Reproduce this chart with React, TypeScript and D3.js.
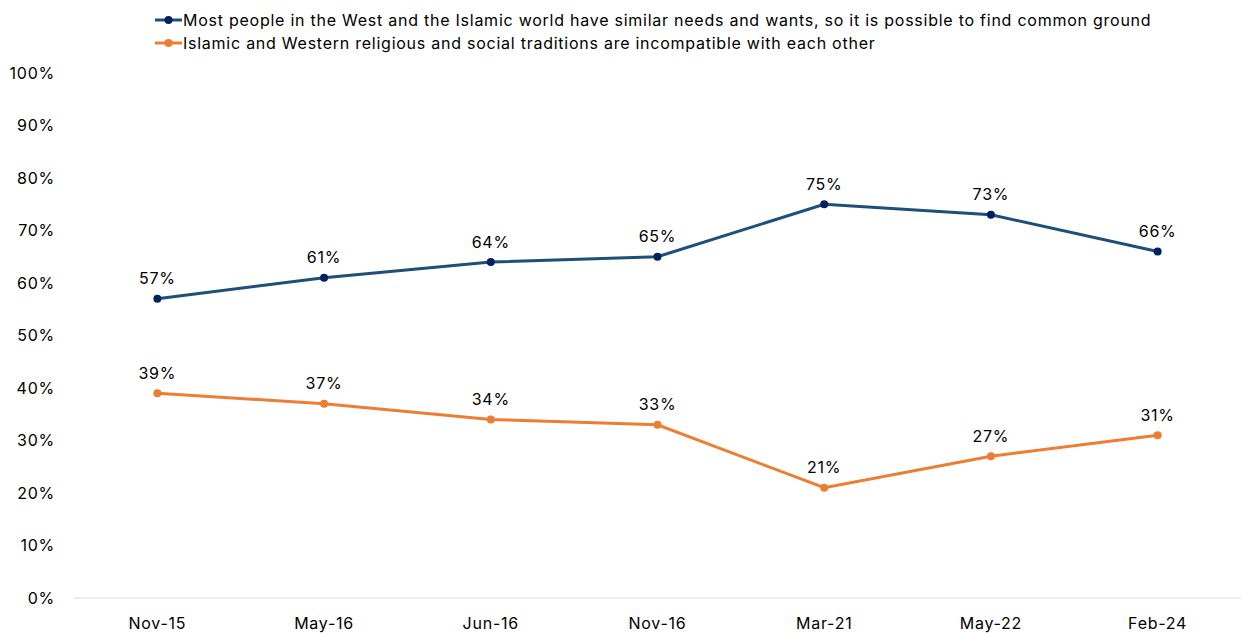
import React from "react";
import * as d3 from "d3";

const categories = ["Nov-15", "May-16", "Jun-16", "Nov-16", "Mar-21", "May-22", "Feb-24"];
const commonGround = [57, 61, 64, 65, 75, 73, 66];
const incompatible = [39, 37, 34, 33, 21, 27, 31];
const yTicks = [0, 10, 20, 30, 40, 50, 60, 70, 80, 90, 100];
const seriesNames = [
  "Most people in the West and the Islamic world have similar needs and wants, so it is possible to find common ground",
  "Islamic and Western religious and social traditions are incompatible with each other",
];

const W = 1243;
const H = 633;
const FONT = "Inter, 'Open Sans', sans-serif";

export default function App() {
  const x = d3.scaleBand<string>().domain(categories).range([74, 1241]);
  const y = d3.scaleLinear().domain([0, 100]).range([598, 73]);
  const cx = (c: string) => (x(c) as number) + x.bandwidth() / 2;
  const line = d3
    .line<number>()
    .x((_, i) => cx(categories[i]))
    .y((d) => y(d));

  const series = [
    { name: seriesNames[0], values: commonGround, line: "#1F4E79", marker: "#002060" },
    { name: seriesNames[1], values: incompatible, line: "#ED7D31", marker: "#ED7D31" },
  ];

  return (
    <svg width={W} height={H} style={{ position: "absolute", left: 0, top: 0, background: "#fff" }} fontFamily={FONT} letterSpacing={0.75}>
      <line x1={74} x2={1241} y1={y(0)} y2={y(0)} stroke="#D9D9D9" strokeWidth={1} />
      {yTicks.map((t) => (
        <text key={t} x={55} y={y(t)} dy="0.35em" textAnchor="end" fontSize={16} fill="#000">
          {t}%
        </text>
      ))}
      {categories.map((c) => (
        <text key={c} x={cx(c)} y={623} dy="0.35em" textAnchor="middle" fontSize={16} fill="#000">
          {c}
        </text>
      ))}
      {series.map((s, si) => (
        <g key={si}>
          <path d={line(s.values) || ""} fill="none" stroke={s.line} strokeWidth={3} />
          {s.values.map((v, i) => (
            <circle key={i} cx={cx(categories[i])} cy={y(v)} r={4} fill={s.marker} />
          ))}
          {s.values.map((v, i) => (
            <text key={"l" + i} x={cx(categories[i])} y={y(v) - 20} dy="0.35em" textAnchor="middle" fontSize={16} fill="#000">
              {v}%
            </text>
          ))}
        </g>
      ))}
      {series.map((s, si) => (
        <g key={"leg" + si} transform={`translate(0, ${20 + si * 23})`}>
          <line x1={155} x2={182} y1={0} y2={0} stroke={s.line} strokeWidth={3} />
          <circle cx={168.5} cy={0} r={4} fill={s.marker} />
          <text x={183} y={0} dy="0.35em" fontSize={16} fill="#000">
            {s.name}
          </text>
        </g>
      ))}
    </svg>
  );
}
